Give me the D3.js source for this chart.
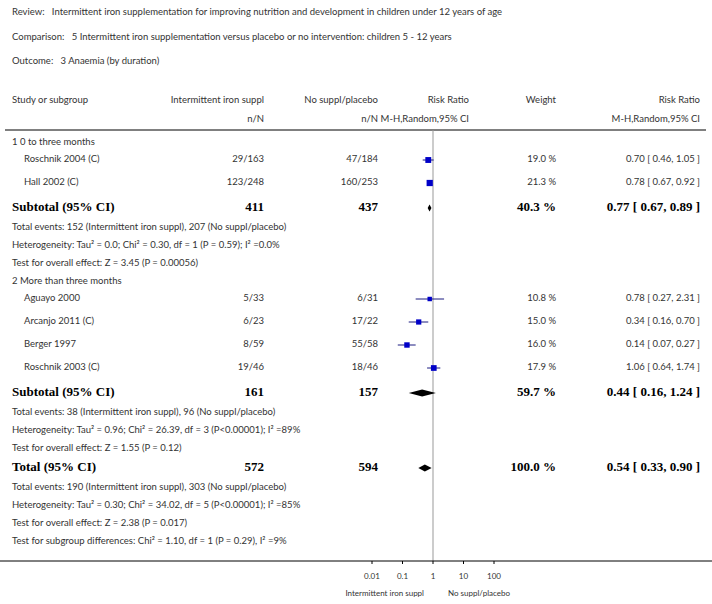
<!DOCTYPE html><html><head><meta charset="utf-8"><script src="https://cdn.jsdelivr.net/npm/d3@7"></script>
<style>body{margin:0;background:#fff}text{font-family:Lato,"Open Sans",sans-serif;fill:#333;white-space:pre}</style></head><body><svg id="c" width="712" height="604"></svg>
<script>
const titles=["Review:   Intermittent iron supplementation for improving nutrition and development in children under 12 years of age","Comparison:   5 Intermittent iron supplementation versus placebo or no intervention: children 5 - 12 years","Outcome:   3 Anaemia (by duration)"];
const studies=["Roschnik 2004 (C)","Hall 2002 (C)","Aguayo 2000","Arcanjo 2011 (C)","Berger 1997","Roschnik 2003 (C)"];
const treat=["29/163","123/248","5/33","6/23","8/59","19/46"];
const ctrl=["47/184","160/253","6/31","17/22","55/58","18/46"];
const rr=[0.70,0.78,0.78,0.34,0.14,1.06];
const lo=[0.46,0.67,0.27,0.16,0.07,0.64];
const hi=[1.05,0.92,2.31,0.70,0.27,1.74];
const weights=[19.0,21.3,10.8,15.0,16.0,17.9];
const rowY=[160,183,299,322,345,368];
const summaries=[{label:"Subtotal (95% CI)",t:"411",c:"437",w:"40.3 %",est:0.77,lo:0.67,hi:0.89,y:208},{label:"Subtotal (95% CI)",t:"161",c:"157",w:"59.7 %",est:0.44,lo:0.16,hi:1.24,y:393},{label:"Total (95% CI)",t:"572",c:"594",w:"100.0 %",est:0.54,lo:0.33,hi:0.90,y:468}];
const notes=[[143,"1 0 to three months"],[228,"Total events: 152 (Intermittent iron suppl), 207 (No suppl/placebo)"],[246,"Heterogeneity: Tau² = 0.0; Chi² = 0.30, df = 1 (P = 0.59); I² =0.0%"],[264,"Test for overall effect: Z = 3.45 (P = 0.00056)"],[282,"2 More than three months"],[413,"Total events: 38 (Intermittent iron suppl), 96 (No suppl/placebo)"],[431,"Heterogeneity: Tau² = 0.96; Chi² = 26.39, df = 3 (P<0.00001); I² =89%"],[449,"Test for overall effect: Z = 1.55 (P = 0.12)"],[488,"Total events: 190 (Intermittent iron suppl), 303 (No suppl/placebo)"],[506,"Heterogeneity: Tau² = 0.30; Chi² = 34.02, df = 5 (P<0.00001); I² =85%"],[524,"Test for overall effect: Z = 2.38 (P = 0.017)"],[542,"Test for subgroup differences: Chi² = 1.10, df = 1 (P = 0.29), I² =9%"]];
const ticks=[0.01,0.1,1,10,100];
const tickLabels=["0.01","0.1","1","10","100"];
const f=d3.format(".2f");
const svg=d3.select("#c");
const x=d3.scaleLog().domain([0.01,100]).range([372,494]);
const T=(xx,y,s,o={})=>{const e=svg.append("text").attr("x",xx).attr("y",y).attr("dominant-baseline","middle").attr("font-size",o.fs||9.5).attr("text-anchor",o.a||"start").text(s);if(o.b){e.attr("font-weight","bold").style("font-family","'Liberation Serif',serif").style("fill","#000");}return e;};
titles.forEach((s,i)=>T(12,13+i*24.5,s));
T(12,101,"Study or subgroup");T(264,101,"Intermittent iron suppl",{a:"end"});T(378,101,"No suppl/placebo",{a:"end"});T(469,101,"Risk Ratio",{a:"end"});T(556,101,"Weight",{a:"end"});T(700,101,"Risk Ratio",{a:"end"});
T(264,120,"n/N",{a:"end"});T(378,120,"n/N",{a:"end"});T(469,120,"M-H,Random,95% CI",{a:"end"});T(700,120,"M-H,Random,95% CI",{a:"end"});
svg.append("line").attr("x1",5).attr("x2",706).attr("y1",130).attr("y2",130).attr("stroke","#000");
svg.append("line").attr("x1",x(1)).attr("x2",x(1)).attr("y1",130).attr("y2",561).attr("stroke","#999");
notes.forEach(([y,s])=>T(12,y,s));
studies.forEach((s,i)=>{const y=rowY[i];T(24,y,s);T(264,y,treat[i],{a:"end"});T(378,y,ctrl[i],{a:"end"});T(556,y,weights[i].toFixed(1)+" %",{a:"end"});
T(700,y,`${f(rr[i])} [ ${f(lo[i])}, ${f(hi[i])} ]`,{a:"end"});
svg.append("line").attr("x1",x(lo[i])).attr("x2",x(hi[i])).attr("y1",y).attr("y2",y).attr("stroke","#1a1a80");
const s2=Math.sqrt(weights[i])*1.35;svg.append("rect").attr("x",x(rr[i])-s2/2).attr("y",y-s2/2).attr("width",s2).attr("height",s2).attr("fill","#0000c8");});
summaries.forEach(d=>{const y=d.y;T(12,y,d.label,{fs:13,b:1});T(264,y,d.t,{a:"end",fs:13,b:1});T(378,y,d.c,{a:"end",fs:13,b:1});T(556,y,d.w,{a:"end",fs:13,b:1});T(700,y,`${f(d.est)} [ ${f(d.lo)}, ${f(d.hi)} ]`,{a:"end",fs:13,b:1});
svg.append("path").attr("d",`M${x(d.lo)},${y}L${x(d.est)},${y-3.5}L${x(d.hi)},${y}L${x(d.est)},${y+3.5}Z`).attr("fill","#000");});
svg.append("line").attr("x1",0).attr("x2",712).attr("y1",561).attr("y2",561).attr("stroke","#000");
ticks.forEach((t,i)=>{svg.append("line").attr("x1",x(t)).attr("x2",x(t)).attr("y1",561).attr("y2",564).attr("stroke","#000");T(x(t),577,tickLabels[i],{a:"middle",fs:8});});
T(424,594,"Intermittent iron suppl",{a:"end",fs:8});T(448,594,"No suppl/placebo",{fs:8});
</script></body></html>
